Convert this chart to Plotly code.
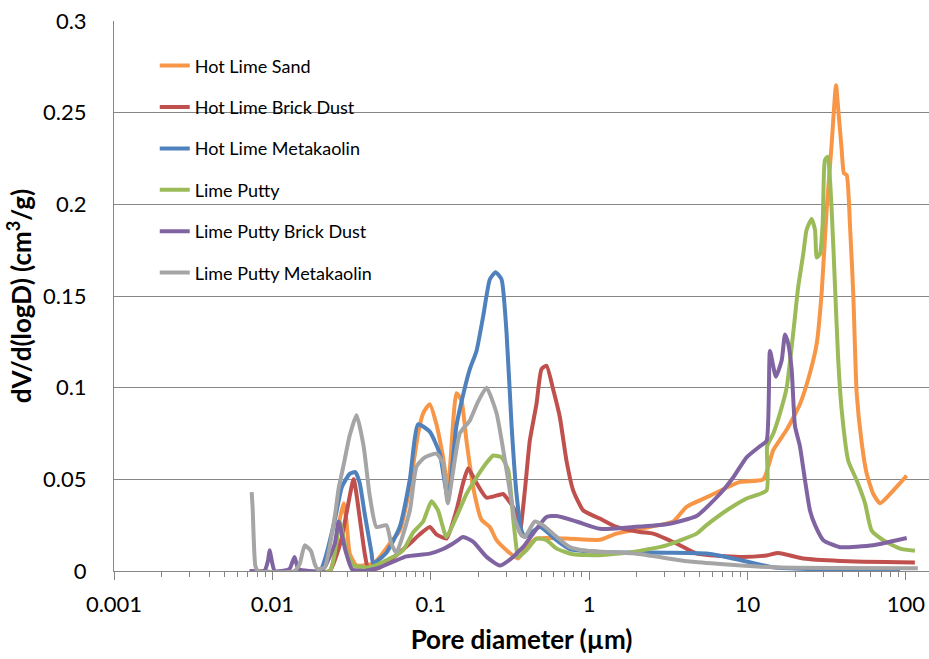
import plotly.graph_objects as go

# ---------------- data ----------------
series_names = ["Hot Lime Sand", "Hot Lime Brick Dust", "Hot Lime Metakaolin",
                "Lime Putty", "Lime Putty Brick Dust", "Lime Putty Metakaolin"]
series_colors = ["#F79646", "#C0504D", "#4F81BD", "#9BBB59", "#8064A2", "#A5A5A5"]

hls_x = [0.0072, 0.023, 0.0248, 0.0266, 0.0282, 0.0293, 0.0308, 0.034, 0.0433, 0.0477,
         0.0551, 0.0637, 0.0738, 0.0832, 0.0895, 0.0986, 0.1086, 0.1196, 0.1286, 0.1452,
         0.1563, 0.1681, 0.185, 0.209, 0.236, 0.2604, 0.301, 0.356, 0.402, 0.465,
         0.72, 1.168, 1.489, 2.414, 3.40, 4.12, 5.78, 8.95, 12.56, 14.55,
         17.67, 21.43, 24.8, 27.35, 29.4, 31.6, 34.0, 36.2, 37.4, 39.3,
         40.6, 42.3, 44.4, 46.5, 48.9, 52.6, 56.6, 62.3, 68.7, 79.4, 92.0, 101.2]
hls_y = [0, 0, 0.010, 0.028, 0.037, 0.028, 0.0095, 0.003, 0.004, 0.0077,
         0.015, 0.022, 0.046, 0.075, 0.086, 0.091, 0.080, 0.062, 0.045, 0.097,
         0.093, 0.071, 0.046, 0.028, 0.024, 0.0168, 0.0113, 0.0068, 0.013, 0.0177,
         0.0177, 0.017, 0.0204, 0.024, 0.027, 0.035, 0.041, 0.0486, 0.050, 0.066,
         0.077, 0.091, 0.108, 0.124, 0.152, 0.197, 0.233, 0.265, 0.252, 0.230,
         0.217, 0.216, 0.188, 0.152, 0.097, 0.070, 0.053, 0.042, 0.037, 0.042, 0.048, 0.052]

hlbd_x = [0.0072, 0.023, 0.0248, 0.0275, 0.0293, 0.0326, 0.0356, 0.0383, 0.0405, 0.0477,
          0.0607, 0.0738, 0.0853, 0.0986, 0.1086, 0.1256, 0.1452, 0.160, 0.1722, 0.1945,
          0.225, 0.2866, 0.301, 0.340, 0.365, 0.393, 0.422, 0.465, 0.500, 0.538,
          0.593, 0.653, 0.720, 0.793, 0.918, 1.168, 1.489, 2.09, 2.535, 3.56,
          4.77, 8.95, 13.2, 15.65, 22.5, 38.4, 114.0]
hlbd_y = [0, 0, 0.006, 0.0186, 0.031, 0.050, 0.029, 0.0095, 0.0005, 0.002,
          0.0086, 0.015, 0.020, 0.024, 0.020, 0.0177, 0.033, 0.048, 0.056, 0.048,
          0.040, 0.042, 0.040, 0.033, 0.021, 0.044, 0.071, 0.091, 0.110, 0.112,
          0.099, 0.084, 0.060, 0.044, 0.033, 0.0286, 0.024, 0.0213, 0.0204, 0.015,
          0.0095, 0.0077, 0.0085, 0.0098, 0.0068, 0.0055, 0.0046]

hlmk_x = [0.0072, 0.020, 0.0214, 0.0248, 0.0275, 0.0308, 0.0334, 0.0356, 0.0383, 0.0423,
          0.0433, 0.0525, 0.0637, 0.0738, 0.0832, 0.0986, 0.114, 0.1286, 0.1452, 0.160,
          0.1763, 0.1945, 0.2143, 0.236, 0.2565, 0.280, 0.301, 0.324, 0.348, 0.374,
          0.393, 0.488, 0.623, 0.755, 1.168, 3.08, 5.51, 8.95, 14.5, 92.0]
hlmk_y = [0, 0, 0.006, 0.028, 0.046, 0.053, 0.054, 0.048, 0.031, 0.0097,
          0.004, 0.010, 0.024, 0.050, 0.080, 0.076, 0.064, 0.039, 0.079, 0.096,
          0.110, 0.120, 0.139, 0.159, 0.163, 0.159, 0.130, 0.079, 0.042, 0.022,
          0.0186, 0.024, 0.0168, 0.012, 0.0104, 0.010, 0.0095, 0.006, 0.002, 0.0]

lp_x = [0.0072, 0.023, 0.0248, 0.0266, 0.0293, 0.0326, 0.0412, 0.0551, 0.0668, 0.0774,
        0.0895, 0.101, 0.1112, 0.1256, 0.1452, 0.1681, 0.1945, 0.225, 0.248, 0.280,
        0.3085, 0.332, 0.351, 0.356, 0.402, 0.465, 0.538, 0.623, 0.793, 1.168,
        1.897, 3.08, 4.77, 5.51, 7.37, 9.87, 13.2, 13.3, 14.55, 16.03,
        17.67, 19.45, 20.9, 22.5, 23.6, 25.4, 26.7, 27.35, 28.7, 29.85,
        30.8, 32.1, 34.0, 35.7, 37.4, 39.3, 43.3, 48.9, 55.2, 60.8,
        72.1, 92.0, 114.0]
lp_y = [0, 0, 0.010, 0.027, 0.0113, 0.003, 0.002, 0.0068, 0.0113, 0.021,
        0.027, 0.038, 0.033, 0.0186, 0.0295, 0.042, 0.051, 0.059, 0.063, 0.062,
        0.055, 0.028, 0.0097, 0.0077, 0.0113, 0.0177, 0.0168, 0.0122, 0.0091, 0.0086,
        0.0104, 0.014, 0.0204, 0.025, 0.033, 0.0395, 0.044, 0.068, 0.075, 0.086,
        0.100, 0.130, 0.155, 0.173, 0.186, 0.192, 0.186, 0.171, 0.173, 0.190,
        0.224, 0.226, 0.197, 0.155, 0.115, 0.088, 0.060, 0.0495, 0.037, 0.022,
        0.0168, 0.0122, 0.011]

lpbd_x = [0.0072, 0.0089, 0.0094, 0.0096, 0.0100, 0.01035, 0.0128, 0.0138, 0.0146, 0.020,
          0.0214, 0.0248, 0.0262, 0.0289, 0.0318, 0.0377, 0.0477, 0.0607, 0.0703, 0.0986,
          0.1196, 0.1383, 0.160, 0.185, 0.225, 0.273, 0.332, 0.365, 0.383, 0.443,
          0.538, 0.623, 0.833, 1.168, 1.897, 3.08, 4.77, 6.69, 8.12, 9.87,
          11.97, 13.2, 13.87, 15.1, 16.44, 17.25, 18.08, 19.0, 19.95, 21.43,
          23.07, 24.8, 26.7, 30.1, 38.4, 62.3, 87.7, 101.2]
lpbd_y = [0, 0, 0.006, 0.0113, 0.004, 0, 0.001, 0.0077, 0.001, 0,
          0.002, 0.015, 0.027, 0.0113, 0.001, 0.0, 0.002, 0.0058, 0.008, 0.0095,
          0.012, 0.015, 0.0186, 0.016, 0.0077, 0.003, 0.0077, 0.0113, 0.013, 0.0204,
          0.0295, 0.030, 0.027, 0.023, 0.024, 0.0255, 0.030, 0.042, 0.051, 0.062,
          0.068, 0.071, 0.120, 0.106, 0.115, 0.129, 0.124, 0.110, 0.079, 0.068,
          0.0495, 0.033, 0.025, 0.0168, 0.013, 0.014, 0.0168, 0.018]

lpmk_x = [0.0074, 0.0075, 0.0078, 0.0081, 0.0138, 0.0149, 0.0160, 0.0175, 0.0185, 0.0193,
          0.0214, 0.0248, 0.0262, 0.0282, 0.0308, 0.034, 0.0377, 0.0412, 0.0454, 0.0525,
          0.0563, 0.0607, 0.0738, 0.0813, 0.0918, 0.1086, 0.1191, 0.128, 0.1524, 0.1763,
          0.198, 0.225, 0.2604, 0.301, 0.340, 0.374, 0.393, 0.454, 0.510, 0.623,
          0.755, 0.964, 1.897, 3.08, 4.52, 14.5, 119.0]
lpmk_y = [0.043, 0.035, 0.003, 0, 0, 0.004, 0.014, 0.011, 0.004, 0.001,
          0.002, 0.030, 0.045, 0.058, 0.074, 0.085, 0.068, 0.041, 0.024, 0.025,
          0.015, 0.010, 0.033, 0.057, 0.062, 0.064, 0.059, 0.037, 0.075, 0.082,
          0.092, 0.100, 0.086, 0.055, 0.028, 0.0195, 0.0186, 0.027, 0.025, 0.0186,
          0.013, 0.011, 0.0097, 0.007, 0.005, 0.002, 0.0015]

series_x = [hls_x, hlbd_x, hlmk_x, lp_x, lpbd_x, lpmk_x]
series_y = [hls_y, hlbd_y, hlmk_y, lp_y, lpbd_y, lpmk_y]

x_tick_vals = [0.001, 0.01, 0.1, 1, 10, 100]
x_tick_text = ["0.001", "0.01", "0.1", "1", "10", "100"]
y_tick_vals = [0, 0.05, 0.1, 0.15, 0.2, 0.25, 0.3]
y_tick_text = ["0", "0.05", "0.1", "0.15", "0.2", "0.25", "0.3"]

# ---------------- figure ----------------
FONT = "Lato, Carlito, Calibri, sans-serif"
AXIS_GRAY = "#868686"

fig = go.Figure()
for name, color, xs, ys in zip(series_names, series_colors, series_x, series_y):
    fig.add_trace(go.Scatter(
        x=xs, y=ys, name=name, mode="lines", legendgroup=name,
        line=dict(color=color, width=4, shape="spline", smoothing=0.5),
    ))

# white panel behind the legend (hides gridlines there, as in the reference)
fig.add_shape(type="rect", xref="paper", yref="y", x0=0, x1=0.361, y0=0.153, y1=0.297,
              fillcolor="white", line=dict(width=0), layer="between")

fig.update_layout(
    width=929, height=659,
    margin=dict(l=114, r=0, t=21, b=88),
    paper_bgcolor="white", plot_bgcolor="white",
    font=dict(family=FONT, color="black", size=22),
    showlegend=True,
    legend=dict(x=0.05, y=0.952, xanchor="left", yanchor="top",
                bgcolor="rgba(0,0,0,0)", borderwidth=0,
                font=dict(family=FONT, size=18, color="black"),
                tracegroupgap=15),
    xaxis=dict(type="log", range=[-3, 2.146],
               tickvals=x_tick_vals, ticktext=x_tick_text,
               ticks="outside", ticklen=8, tickcolor=AXIS_GRAY,
               minor=dict(ticks="outside", ticklen=5, tickcolor=AXIS_GRAY, dtick="D1", showgrid=False),
               showline=True, linecolor=AXIS_GRAY, linewidth=1,
               showgrid=False, zeroline=False, ticklabelstandoff=6,
               tickfont=dict(family=FONT, size=22),
               title=dict(text="<b>Pore diameter (µm)</b>", font=dict(family=FONT, size=26), standoff=14)),
    yaxis=dict(range=[0, 0.3], tickvals=y_tick_vals, ticktext=y_tick_text,
               ticks="", showline=True, linecolor=AXIS_GRAY, linewidth=1,
               showgrid=True, gridcolor=AXIS_GRAY, gridwidth=1, zeroline=False,
               ticklabelstandoff=22,
               tickfont=dict(family=FONT, size=22),
               title=dict(text="<b>dV/d(logD) (cm<sup>3</sup>/g)</b>", font=dict(family=FONT, size=26), standoff=4)),
)

fig.write_html("out.html")
